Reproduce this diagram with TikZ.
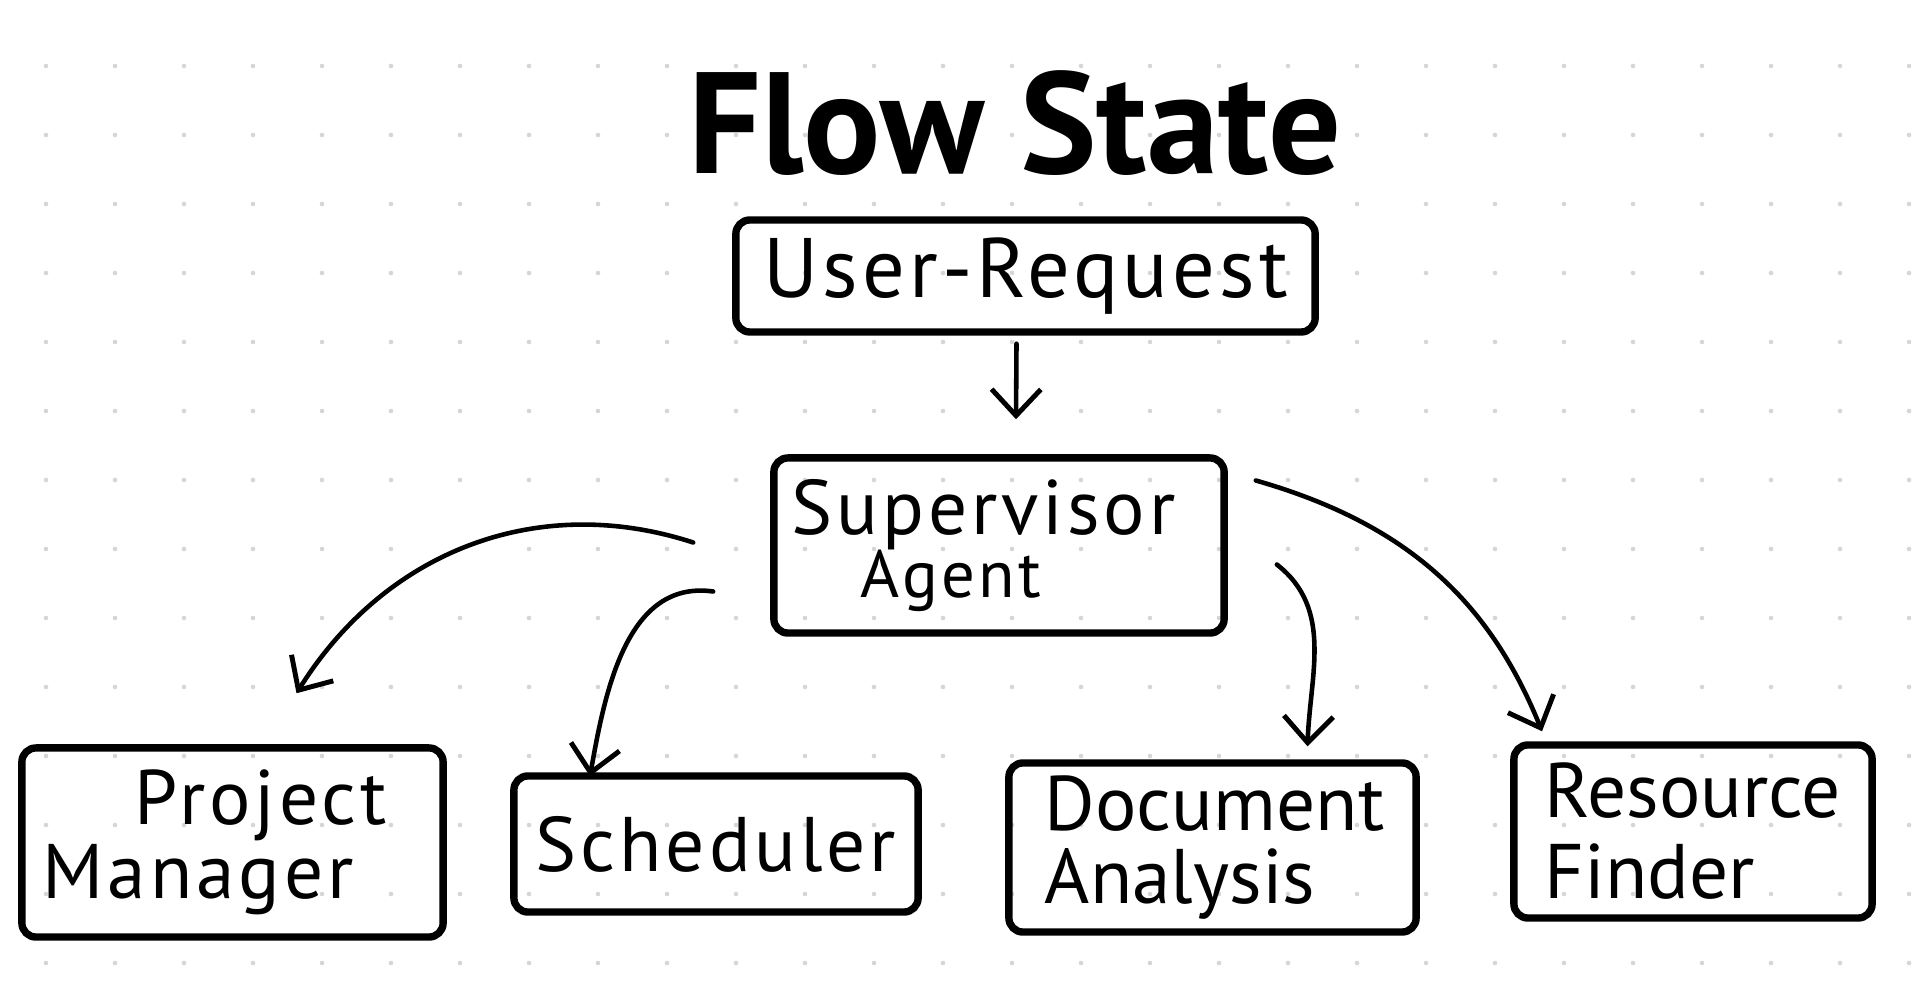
\documentclass[tikz,border=0pt]{standalone}
\usepackage{fontspec}
\setmainfont{PT Sans}
\newfontfamily\handfont{PT Sans}
\newfontfamily\handwide[LetterSpace=5]{PT Sans}
\usetikzlibrary{arrows.meta,positioning}
\definecolor{dotgray}{HTML}{D6D6D6}
\tikzset{
    sketchbox/.style={
        draw,
        line width=2.1pt,
        line join=round,
        rounded corners=4pt,
        align=left,
        font=\handfont\fontsize{22}{21}\selectfont
    },
    wide/.style={
        font=\handwide\fontsize{22}{21}\selectfont
    },
    flowptr/.style={
        -{Straight Barb[length=7.5pt,width=14pt,line width=1.4pt]},
        line width=1.3pt,
        line cap=round
    }
}

\begin{document}
\begin{tikzpicture}[x=0.01cm,y=0.01cm]
    % paper with dot grid
    \fill[white] (0,0) rectangle (1915,1000);
    \foreach \i in {0,...,27}
    {
        \foreach \j in {0,...,13}
        {
            \fill[dotgray] (46+69*\i,934-69*\j) circle (0.65pt);
        }
    }
    \useasboundingbox (0,0) rectangle (1915,1000);

    % title
    \node[font=\fontsize{41}{46}\selectfont\bfseries] (title) at (1015,877) {Flow State};

    % boxes
    \node[sketchbox, font=\handwide\fontsize{24}{28}\selectfont, minimum width=5.79cm, minimum height=1.12cm] (userreq) at (1025.5,724) {User-Request};
    \node[sketchbox, wide, minimum height=1.75cm, text width=4.14cm, inner xsep=0.18cm] (supervisor) at (999,454.5) {Supervisor\\[-3pt]\hspace*{0.69cm}{\fontsize{19}{20}\selectfont Agent}};
    \node[sketchbox, wide, minimum height=1.89cm, text width=3.79cm, inner xsep=0.21cm] (pm) at (232.5,157.5) {\hspace*{0.92cm}Project\\Manager};
    \node[sketchbox, wide, minimum width=4.04cm, minimum height=1.36cm] (sched) at (716,156) {Scheduler};
    \node[sketchbox, minimum height=1.69cm, text width=3.35cm, inner xsep=0.36cm] (doc) at (1212.5,152.5) {Document\\Analysis};
    \node[sketchbox, minimum height=1.73cm, text width=2.96cm, inner xsep=0.31cm] (res) at (1693,168.5) {Resource\\[2pt]Finder};

    % connectors
    \draw[flowptr] ([shift={(-9,-8)}]userreq.south) -- ([shift={(17,35)}]supervisor.north);
    \draw[flowptr] ([shift={(-77,3)}]supervisor.west) to[out=162,in=58] ([shift={(64,51)}]pm.north);
    \draw[flowptr] ([shift={(-57,-46)}]supervisor.west) to[out=172,in=80] ([shift={(-126,-4)}]sched.north);
    \draw[flowptr] ([shift={(49,-19)}]supervisor.east) to[out=-38,in=88] ([shift={(95,13)}]doc.north);
    \draw[flowptr] ([shift={(28,65)}]supervisor.east) to[out=-16,in=112] ([shift={(-151,10)}]res.north);
\end{tikzpicture}
\end{document}
